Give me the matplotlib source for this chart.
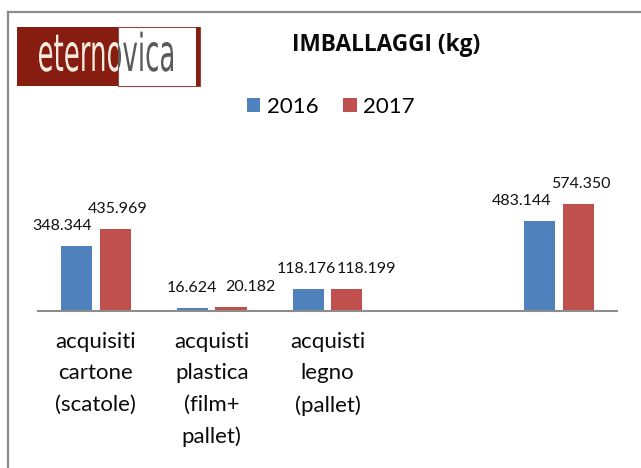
import matplotlib

matplotlib.use("Agg")
import numpy as np
import matplotlib.pyplot as plt
from matplotlib.font_manager import FontProperties
from matplotlib.lines import Line2D
from matplotlib.patches import Patch, PathPatch, Rectangle
from matplotlib.textpath import TextPath
from matplotlib.transforms import Affine2D

plt.rcParams["font.family"] = ["Lato", "DejaVu Sans"]

categories = [
    "acquisiti\ncartone\n(scatole)",
    "acquisti\nplastica\n(film+\npallet)",
    "acquisti\nlegno\n(pallet)",
    "",
    "",
]
values_2016 = [348344, 16624, 118176, np.nan, 483144]
values_2017 = [435969, 20182, 118199, np.nan, 574350]
series_names = ["2016", "2017"]

# label nudges in pixels (Excel moved some labels to avoid overlaps)
nudge_2016 = [-14, 0, -2, 0, -18]
nudge_2017 = [2, 19, 20, 0, 2]

BLUE = "#4F81BD"
RED = "#C0504D"
W, H = 641, 468


def fmt_it(v):
    return f"{v:,.0f}".replace(",", ".")


fig = plt.figure(figsize=(W / 100, H / 100), dpi=100)

# pixel-space background layer for frame and logo
bg = fig.add_axes([0, 0, 1, 1], zorder=-1)
bg.set_xlim(0, W)
bg.set_ylim(H, 0)
bg.axis("off")
bg.add_line(Line2D([8, W], [12, 12], color="#8c8c8c", lw=1.6))
bg.add_line(Line2D([8, 8], [12, H], color="#8c8c8c", lw=1.6))

# logo
red_box = Rectangle((17, 27), 101, 59, facecolor="#861d10", edgecolor="none")
white_box = Rectangle((118, 27), 82, 59, facecolor="white", edgecolor="#8a4a40", lw=0.8)
bg.add_patch(red_box)
bg.add_patch(white_box)
bg.add_patch(Rectangle((196, 27), 4, 59, facecolor="#861d10", edgecolor="none"))
tp = TextPath((0, 0), "eternovica", size=1, prop=FontProperties(family="DejaVu Sans"))
ext = tp.get_extents()
sx = 134 / ext.width
sy = 29 / 0.56
tr = Affine2D().translate(-ext.x0, 0).scale(sx, -sy).translate(39, 71) + bg.transData
light = PathPatch(tp, transform=tr, facecolor="#f3ebe0", edgecolor="none")
dark = PathPatch(tp, transform=tr, facecolor="#5a5a5a", edgecolor="none")
bg.add_patch(light)
bg.add_patch(dark)
light.set_clip_path(red_box)
dark.set_clip_path(white_box)

# chart
ax = fig.add_axes([38 / W, (H - 311) / H, (617 - 38) / W, 131 / H])
ax.patch.set_alpha(0)
x = np.arange(len(categories))
bw = 0.27
off = 0.167
ax.bar(x - off, values_2016, bw, color=BLUE, label=series_names[0])
ax.bar(x + off, values_2017, bw, color=RED, label=series_names[1])
ax.set_xlim(-0.5, len(categories) - 0.5)
ax.set_ylim(0, 700000)

for xi, v, dx in zip(x - off, values_2016, nudge_2016):
    if np.isfinite(v):
        ax.annotate(fmt_it(v), (xi, v), xytext=(dx, 20), textcoords="offset pixels",
                    ha="center", va="center", fontsize=11.5, color="#111111")
for xi, v, dx in zip(x + off, values_2017, nudge_2017):
    if np.isfinite(v):
        ax.annotate(fmt_it(v), (xi, v), xytext=(dx, 20), textcoords="offset pixels",
                    ha="center", va="center", fontsize=11.5, color="#111111")

for s in ["top", "right", "left"]:
    ax.spines[s].set_visible(False)
ax.spines["bottom"].set_color("#8c8c8c")
ax.spines["bottom"].set_linewidth(1.5)
ax.set_yticks([])
ax.set_xticks(x)
ax.set_xticklabels(categories, fontsize=16, linespacing=1.72, color="#0a0a0a")
ax.tick_params(axis="x", length=0, pad=15)
for lbl in ax.get_xticklabels():
    lbl.set_verticalalignment("top")

fig.text(386 / W, 1 - 45 / H, "IMBALLAGGI (kg)", ha="center", va="center",
         fontsize=16.3, fontweight="bold", family="Open Sans", color="#0a0a0a")

handles = [Patch(facecolor=BLUE, label=series_names[0]),
           Patch(facecolor=RED, label=series_names[1])]
fig.legend(handles=handles, loc="center", bbox_to_anchor=(331 / W, 1 - 107 / H),
           ncol=2, frameon=False, fontsize=16, handlelength=0.6, handleheight=0.6,
           handletextpad=0.3, columnspacing=1.1, borderpad=0)

fig.savefig("out.png", dpi=100)
